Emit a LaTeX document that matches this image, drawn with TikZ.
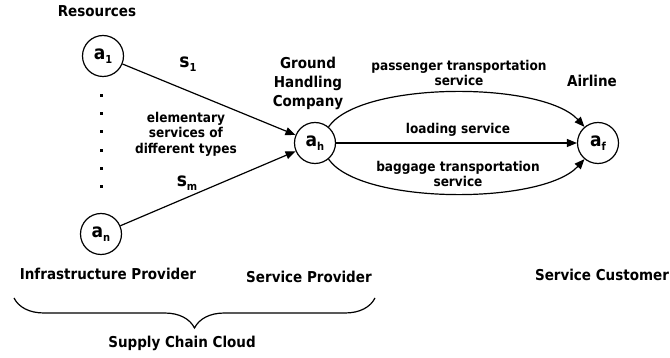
\documentclass[tikz,border=0pt]{standalone}
\usepackage{fontspec}
\setmainfont{DejaVu Sans Condensed}
\usetikzlibrary{arrows.meta,decorations.pathreplacing}
\newcommand\subs[1]{\raisebox{-4pt}{\fontsize{11}{11}\selectfont #1}}
\tikzset{
  every node/.style={inner sep=0pt},
  role/.style={font=\bfseries\fontsize{15}{19}\selectfont, align=center},
  lbl/.style={font=\bfseries\fontsize{13.5}{15.5}\selectfont, align=center},
  vtx/.style={draw, circle, line width=1.2pt, minimum size=41pt, inner sep=0pt,
              font=\bfseries\fontsize{19}{19}\selectfont},
  sym/.style={font=\bfseries\fontsize{19}{19}\selectfont},
  dotmark/.style={fill, rectangle, minimum size=3pt},
  arr/.style={line width=1.2pt, -{Triangle[length=10pt,width=8pt]}},
  plain/.style={line width=1.2pt},
}
\begin{document}
\begin{tikzpicture}[x=1pt,y=-1pt]
\useasboundingbox (0,0) rectangle (670,358);
% vertices
\node[vtx] (a1) at (103,56) {a\subs{1}};
\node[vtx] (an) at (101,234) {a\subs{n}};
\node[vtx] (ah) at (315,143) {a\subs{h}};
\node[vtx] (af) at (598,143) {a\subs{f}};
% dots
\foreach \i/\yy in {1/96,2/114,3/132,4/151,5/169,6/187}
  \node[dotmark] (d\i) at (101,\yy) {};
% labels
\node[role] (res) at (97,11) {Resources};
\node[sym] (s1) at (188,64) {s\subs{1}};
\node[sym] (sm) at (187,183) {s\subs{m}};
\node[lbl] (elem) at (186,134) {elementary\\services of\\different types};
\node[role] (ghc) at (308,83) {Ground\\Handling\\Company};
\node[lbl] (pts) at (459,73) {passenger transportation\\service};
\node[lbl] (ls) at (458,130) {loading service};
\node[lbl] (bts) at (458,174) {baggage transportation\\service};
\node[role] (air) at (592,81) {Airline};
\node[role] (ip) at (108,274) {Infrastructure Provider};
\node[role] (sp) at (309,277) {Service Provider};
\node[role] (sc) at (602,275) {Service Customer};
\node[role] (scc) at (182,343) {Supply Chain Cloud};
% connectors
\draw[arr] (a1) -- (ah);
\draw[arr] (an) -- (ah);
\draw[arr] (ah) -- (af);
\draw[arr] (ah.50) .. controls +(32,-46) and +(-42,-46) .. (af.130);
\draw[arr] (ah.-50) .. controls +(32,46) and +(-42,46) .. (af.-130);
% brace
\coordinate (bl) at (14,298);
\coordinate (br) at (375,298);
\draw[plain, decorate, decoration={brace, mirror, amplitude=30pt}] (bl) -- (br);
\end{tikzpicture}
\end{document}
